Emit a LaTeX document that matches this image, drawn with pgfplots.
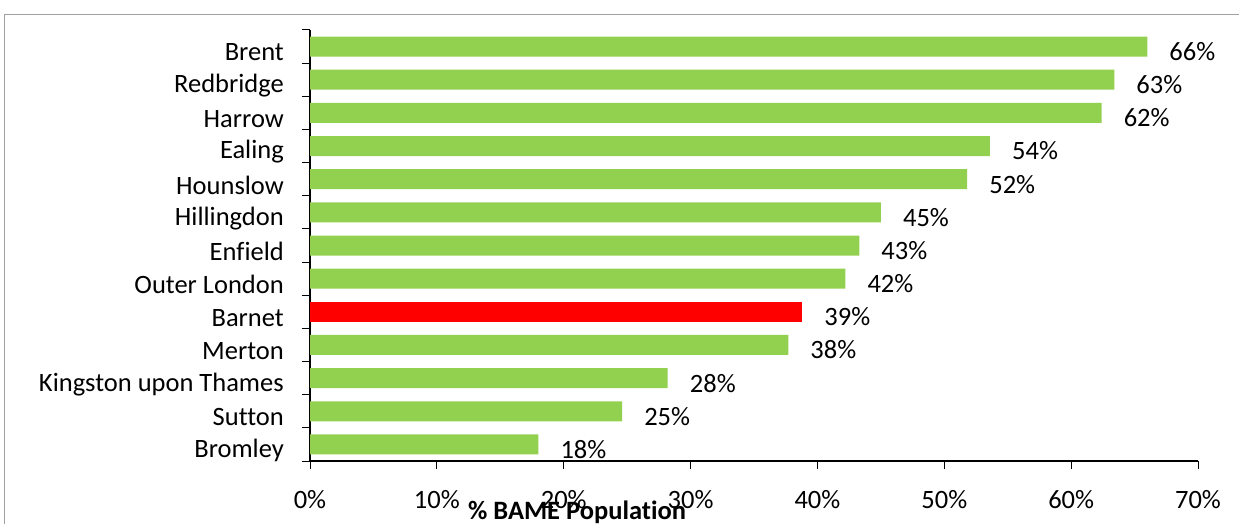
\documentclass[border=0pt]{standalone}
\usepackage{pgfplots}
\pgfplotsset{compat=1.18}
\usepackage{pgfplotstable}
\usepackage{fontspec}
\setmainfont{Carlito}[Ligatures=NoCommon]
\definecolor{bargreen}{RGB}{146,208,80}
\definecolor{framegray}{RGB}{160,160,160}
\pgfplotstableread{
y x
0 18.0
1 24.6
2 28.2
3 37.7
5 42.2
6 43.3
7 45.0
8 51.8
9 53.6
10 62.4
11 63.4
12 66.0
}\greendata
\pgfplotstableread{
y x
4 38.8
}\reddata
\begin{document}
\begin{tikzpicture}[x=1pt,y=1pt]
\useasboundingbox (0,0) rectangle (1239,523);
\draw[framegray, line width=1.5pt] (4.5,-10) -- (4.5,508.5) -- (1260,508.5);
\begin{axis}[
  at={(310pt,62pt)}, anchor=south west,
  scale only axis, width=888pt, height=431pt,
  xbar, bar width=20pt, bar shift=0pt,
  xmin=0, xmax=70, ymin=-0.5, ymax=12.5,
  axis x line*=bottom, axis y line*=left,
  x axis line style={black, line width=2.5pt},
  y axis line style={black, line width=1.2pt},
  tick align=outside,
  xtick={0,10,...,70},
  xticklabel={\pgfmathprintnumber{\tick}\%},
  major x tick style={black, line width=1pt},
  major tick length=8pt,
  minor tick length=8pt,
  ytick={0,...,12},
  yticklabels={Bromley, Sutton, Kingston upon Thames, Merton, Barnet, Outer London, Enfield, Hillingdon, Hounslow, Ealing, Harrow, Redbridge, Brent},
  minor ytick={-0.5,0.5,...,12.5},
  major y tick style={draw=none},
  minor y tick style={black, line width=1pt},
  /pgf/number format/assume math mode=true,
  tick label style={font=\fontsize{26.5}{31}\selectfont},
  yticklabel style={anchor=east, inner sep=0pt, xshift=-18pt, yshift=-6pt},
  xticklabel style={anchor=center, inner sep=0pt, yshift=-31pt},
  xlabel={\% BAME Population},
  xlabel style={at={(axis description cs:0.3007,0)}, anchor=center, yshift=-51pt, inner sep=0pt, font=\fontsize{26.5}{31}\selectfont\bfseries},
  point meta=x,
  nodes near coords={\pgfmathprintnumber[fixed,precision=0]{\pgfplotspointmeta}\%},
  nodes near coords style={anchor=west, inner sep=0pt, xshift=22pt, yshift=-5pt, font=\fontsize{26.5}{31}\selectfont, black},
]
\addplot[fill=bargreen, draw=none] table[x=x,y=y] {\greendata};
\addplot[fill=red, draw=none] table[x=x,y=y] {\reddata};
\end{axis}
\end{tikzpicture}
\end{document}
